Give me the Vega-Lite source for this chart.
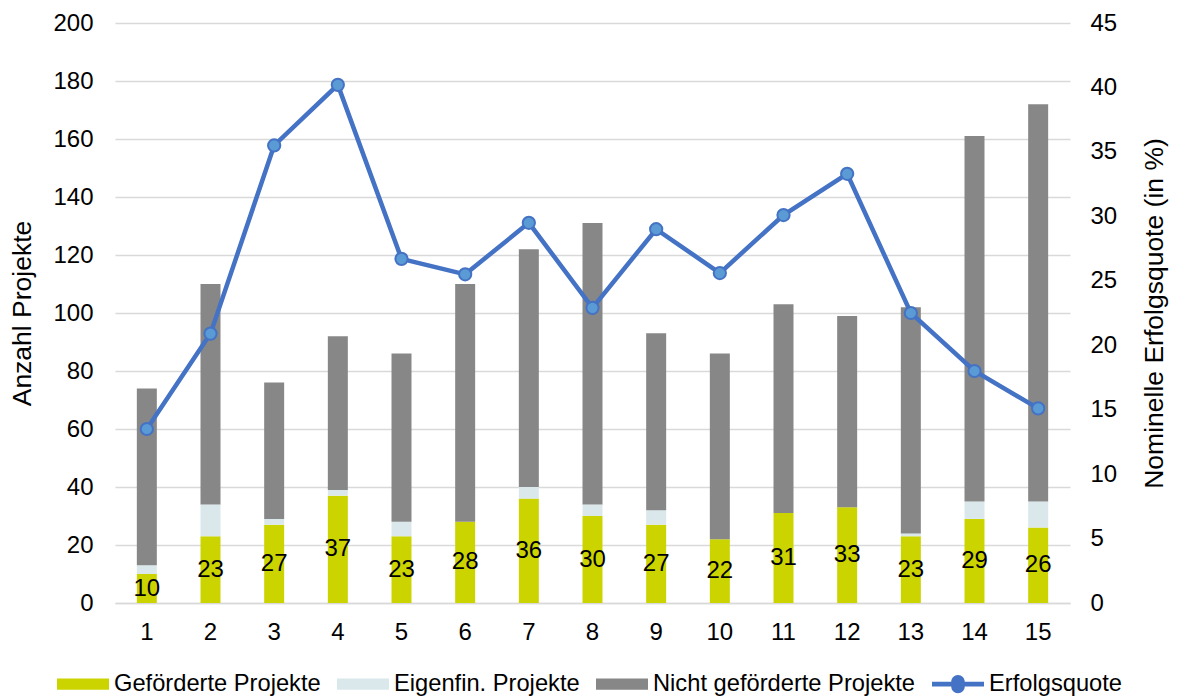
{
  "$schema": "https://vega.github.io/schema/vega-lite/v6.json",
  "width": 955,
  "height": 580,
  "autosize": {"type": "none"},
  "padding": {"left": 115, "top": 23, "right": 108, "bottom": 93},
  "background": "white",
  "config": {
    "font": "Liberation Sans",
    "view": {"stroke": null},
    "axis": {
      "labelFont": "Liberation Sans",
      "labelFontSize": 24,
      "labelColor": "#000000",
      "titleFont": "Liberation Sans",
      "titleFontSize": 26.5,
      "titleFontWeight": "normal",
      "titleColor": "#000000",
      "ticks": false,
      "tickSize": 0,
      "domain": false
    }
  },
  "datasets": {
    "projekte": [
      {"Nr": 1, "Kategorie": "Geförderte Projekte", "Anzahl": 10},
      {"Nr": 1, "Kategorie": "Eigenfin. Projekte", "Anzahl": 3},
      {"Nr": 1, "Kategorie": "Nicht geförderte Projekte", "Anzahl": 61},
      {"Nr": 2, "Kategorie": "Geförderte Projekte", "Anzahl": 23},
      {"Nr": 2, "Kategorie": "Eigenfin. Projekte", "Anzahl": 11},
      {"Nr": 2, "Kategorie": "Nicht geförderte Projekte", "Anzahl": 76},
      {"Nr": 3, "Kategorie": "Geförderte Projekte", "Anzahl": 27},
      {"Nr": 3, "Kategorie": "Eigenfin. Projekte", "Anzahl": 2},
      {"Nr": 3, "Kategorie": "Nicht geförderte Projekte", "Anzahl": 47},
      {"Nr": 4, "Kategorie": "Geförderte Projekte", "Anzahl": 37},
      {"Nr": 4, "Kategorie": "Eigenfin. Projekte", "Anzahl": 2},
      {"Nr": 4, "Kategorie": "Nicht geförderte Projekte", "Anzahl": 53},
      {"Nr": 5, "Kategorie": "Geförderte Projekte", "Anzahl": 23},
      {"Nr": 5, "Kategorie": "Eigenfin. Projekte", "Anzahl": 5},
      {"Nr": 5, "Kategorie": "Nicht geförderte Projekte", "Anzahl": 58},
      {"Nr": 6, "Kategorie": "Geförderte Projekte", "Anzahl": 28},
      {"Nr": 6, "Kategorie": "Eigenfin. Projekte", "Anzahl": 0},
      {"Nr": 6, "Kategorie": "Nicht geförderte Projekte", "Anzahl": 82},
      {"Nr": 7, "Kategorie": "Geförderte Projekte", "Anzahl": 36},
      {"Nr": 7, "Kategorie": "Eigenfin. Projekte", "Anzahl": 4},
      {"Nr": 7, "Kategorie": "Nicht geförderte Projekte", "Anzahl": 82},
      {"Nr": 8, "Kategorie": "Geförderte Projekte", "Anzahl": 30},
      {"Nr": 8, "Kategorie": "Eigenfin. Projekte", "Anzahl": 4},
      {"Nr": 8, "Kategorie": "Nicht geförderte Projekte", "Anzahl": 97},
      {"Nr": 9, "Kategorie": "Geförderte Projekte", "Anzahl": 27},
      {"Nr": 9, "Kategorie": "Eigenfin. Projekte", "Anzahl": 5},
      {"Nr": 9, "Kategorie": "Nicht geförderte Projekte", "Anzahl": 61},
      {"Nr": 10, "Kategorie": "Geförderte Projekte", "Anzahl": 22},
      {"Nr": 10, "Kategorie": "Eigenfin. Projekte", "Anzahl": 0},
      {"Nr": 10, "Kategorie": "Nicht geförderte Projekte", "Anzahl": 64},
      {"Nr": 11, "Kategorie": "Geförderte Projekte", "Anzahl": 31},
      {"Nr": 11, "Kategorie": "Eigenfin. Projekte", "Anzahl": 0},
      {"Nr": 11, "Kategorie": "Nicht geförderte Projekte", "Anzahl": 72},
      {"Nr": 12, "Kategorie": "Geförderte Projekte", "Anzahl": 33},
      {"Nr": 12, "Kategorie": "Eigenfin. Projekte", "Anzahl": 0},
      {"Nr": 12, "Kategorie": "Nicht geförderte Projekte", "Anzahl": 66},
      {"Nr": 13, "Kategorie": "Geförderte Projekte", "Anzahl": 23},
      {"Nr": 13, "Kategorie": "Eigenfin. Projekte", "Anzahl": 1},
      {"Nr": 13, "Kategorie": "Nicht geförderte Projekte", "Anzahl": 78},
      {"Nr": 14, "Kategorie": "Geförderte Projekte", "Anzahl": 29},
      {"Nr": 14, "Kategorie": "Eigenfin. Projekte", "Anzahl": 6},
      {"Nr": 14, "Kategorie": "Nicht geförderte Projekte", "Anzahl": 126},
      {"Nr": 15, "Kategorie": "Geförderte Projekte", "Anzahl": 26},
      {"Nr": 15, "Kategorie": "Eigenfin. Projekte", "Anzahl": 9},
      {"Nr": 15, "Kategorie": "Nicht geförderte Projekte", "Anzahl": 137}
    ],
    "quote": [
      {"Nr": 1, "Quote": 13.5},
      {"Nr": 2, "Quote": 20.9},
      {"Nr": 3, "Quote": 35.5},
      {"Nr": 4, "Quote": 40.2},
      {"Nr": 5, "Quote": 26.7},
      {"Nr": 6, "Quote": 25.5},
      {"Nr": 7, "Quote": 29.5},
      {"Nr": 8, "Quote": 22.9},
      {"Nr": 9, "Quote": 29.0},
      {"Nr": 10, "Quote": 25.6},
      {"Nr": 11, "Quote": 30.1},
      {"Nr": 12, "Quote": 33.3},
      {"Nr": 13, "Quote": 22.5},
      {"Nr": 14, "Quote": 18.0},
      {"Nr": 15, "Quote": 15.1}
    ]
  },
  "encoding": {
    "x": {
      "field": "Nr",
      "type": "ordinal",
      "scale": {"paddingInner": 0.686, "paddingOuter": 0.343},
      "axis": {
        "title": null,
        "labelAngle": 0,
        "labelPadding": 17,
        "domain": true,
        "domainColor": "#D9D9D9",
        "domainWidth": 1.5
      }
    }
  },
  "layer": [
    {
      "data": {"name": "projekte"},
      "mark": {"type": "bar"},
      "encoding": {
        "y": {
          "field": "Anzahl",
          "type": "quantitative",
          "stack": "zero",
          "scale": {"domain": [0, 200], "nice": false},
          "axis": {
            "orient": "left",
            "title": "Anzahl Projekte",
            "values": [0, 20, 40, 60, 80, 100, 120, 140, 160, 180, 200],
            "grid": true,
            "gridColor": "#D9D9D9",
            "gridWidth": 1.5,
            "labelPadding": 22,
            "titlePadding": 16
          }
        },
        "color": {
          "field": "Kategorie",
          "type": "nominal",
          "sort": ["Geförderte Projekte", "Eigenfin. Projekte", "Nicht geförderte Projekte", "Erfolgsquote"],
          "scale": {
            "domain": ["Geförderte Projekte", "Eigenfin. Projekte", "Nicht geförderte Projekte", "Erfolgsquote"],
            "range": ["#CCD400", "#DAE8EC", "#878787", "#4472C4"]
          },
          "legend": {
            "title": null,
            "orient": "none",
            "direction": "horizontal",
            "legendX": -58,
            "legendY": 635,
            "labelFont": "Liberation Sans",
            "labelFontSize": 23.7,
            "labelColor": "#000000",
            "labelOffset": 5,
            "columnPadding": 16,
            "symbolSize": 2704,
            "labelLimit": 400,
            "encode": {
              "symbols": {
                "update": {
                  "shape": {"signal": "datum.value === 'Erfolgsquote' ? 'M-1,-0.09H-0.26A0.26,0.26 0 0,1 0.26,-0.09H1V0.09H0.26A0.26,0.26 0 0,1 -0.26,0.09H-1Z' : 'M-1,-0.22H1V0.22H-1Z'"},
                  "fill": {"scale": "color", "field": "value"},
                  "stroke": {"scale": "color", "field": "value"},
                  "strokeWidth": {"value": 0},
                  "opacity": {"value": 1},
                  "fillOpacity": {"value": 1}
                }
              }
            }
          }
        },
        "order": {"field": "Nr", "type": "quantitative"}
      }
    },
    {
      "data": {"name": "quote"},
      "encoding": {
        "y": {
          "field": "Quote",
          "type": "quantitative",
          "scale": {"domain": [0, 45], "nice": false},
          "axis": {
            "orient": "right",
            "title": "Nominelle Erfolgsquote (in %)",
            "titleAngle": -90,
            "titleBaseline": "top",
            "values": [0, 5, 10, 15, 20, 25, 30, 35, 40, 45],
            "grid": false,
            "labelPadding": 20,
            "titlePadding": 25
          }
        }
      },
      "layer": [
        {
          "mark": {"type": "line", "strokeWidth": 4.5},
          "encoding": {
            "color": {"datum": "Erfolgsquote"}
          }
        },
        {
          "mark": {"type": "point", "filled": true, "fill": "#5B9BD5", "stroke": "#4472C4", "strokeWidth": 2, "size": 150, "opacity": 1}
        }
      ]
    },
    {
      "data": {"name": "projekte"},
      "transform": [{"filter": "datum.Kategorie === 'Geförderte Projekte'"}],
      "mark": {"type": "text", "fontSize": 24, "font": "Liberation Sans", "color": "#000000", "baseline": "middle", "align": "center"},
      "encoding": {
        "y": {"field": "Anzahl", "type": "quantitative", "scale": {"domain": [0, 400], "nice": false}, "axis": null},
        "text": {"field": "Anzahl", "type": "quantitative"}
      }
    }
  ],
  "resolve": {"scale": {"y": "independent"}}
}
